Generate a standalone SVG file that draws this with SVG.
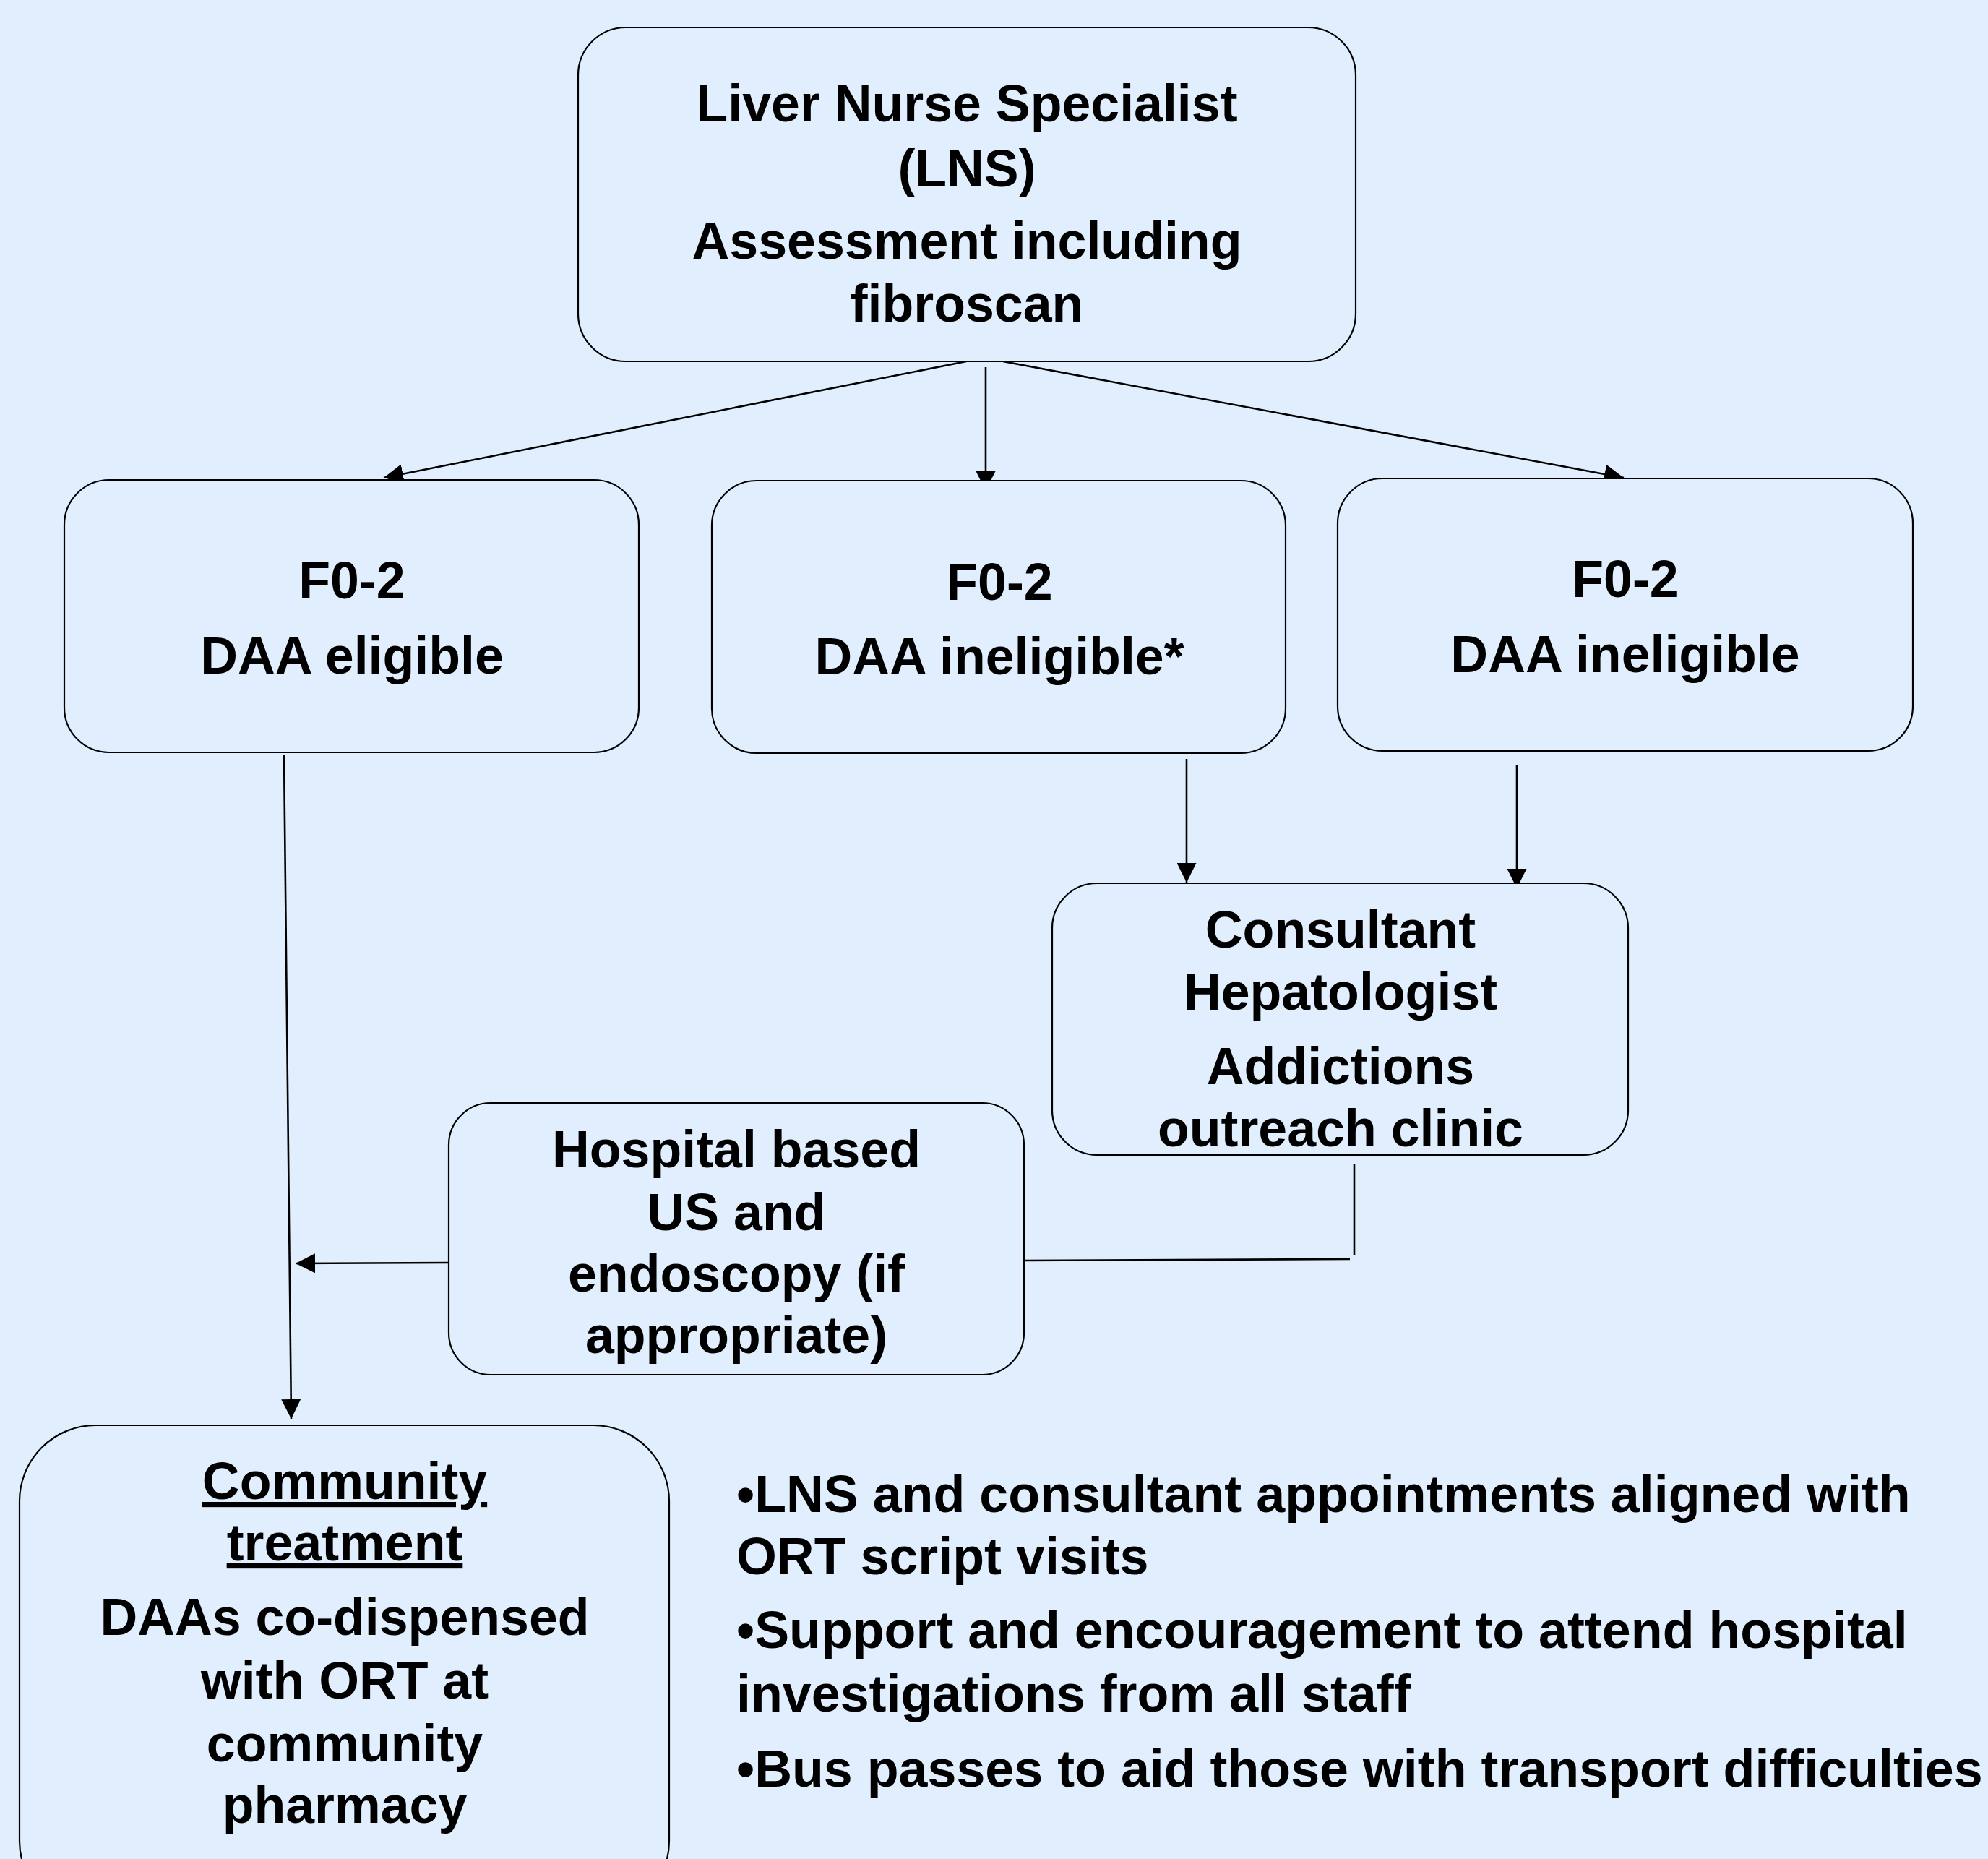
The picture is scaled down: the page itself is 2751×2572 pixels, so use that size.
<svg xmlns="http://www.w3.org/2000/svg" width="2751" height="2572" viewBox="0 0 2751 2572">
<defs>
<marker id="ah" viewBox="0 0 27 27" refX="27" refY="13.5" markerWidth="27" markerHeight="27" markerUnits="userSpaceOnUse" orient="auto">
<path d="M0,0 L27,13.5 L0,27 z" fill="#000"/>
</marker>
<style>
.box{fill:#E0EEFE;stroke:#000;stroke-width:2.2}
.t{font-family:"Liberation Sans",Arial,sans-serif;font-weight:bold;font-size:71.7px;fill:#000;text-anchor:middle}
.b{font-family:"Liberation Sans",Arial,sans-serif;font-weight:bold;font-size:71.8px;fill:#000}
.c{stroke:#000;stroke-width:2.6;fill:none}
.ca{stroke:#000;stroke-width:2.6;fill:none;marker-end:url(#ah)}
</style>
</defs>
<rect x="0" y="0" width="2751" height="2572" fill="#E0EEFE"/>

<g id="connectors">
<line class="ca" x1="1337" y1="500" x2="531" y2="661"/>
<line class="ca" x1="1364" y1="508" x2="1364" y2="679"/>
<line class="ca" x1="1388" y1="500" x2="2247" y2="661"/>
<line class="ca" x1="1642" y1="1050" x2="1642" y2="1221"/>
<line class="ca" x1="2099" y1="1058" x2="2099" y2="1229"/>
<line class="ca" x1="393" y1="1044" x2="403" y2="1963"/>
<line class="ca" x1="621" y1="1747" x2="409" y2="1748"/>
<line class="c" x1="1874" y1="1610" x2="1874" y2="1737"/>
<line class="c" x1="1868" y1="1742" x2="1417" y2="1744"/>
</g>

<g id="lns">
<rect class="box" x="800" y="38" width="1076" height="462" rx="66" ry="66"/>
<text class="t" x="1338" y="168">Liver Nurse Specialist</text>
<text class="t" x="1338" y="258">(LNS)</text>
<text class="t" x="1338" y="358">Assessment including</text>
<text class="t" x="1338" y="445">fibroscan</text>
</g>

<g id="eligible">
<rect class="box" x="89" y="664" width="795" height="377" rx="62" ry="62"/>
<text class="t" x="487" y="828">F0-2</text>
<text class="t" x="487" y="932">DAA eligible</text>
</g>

<g id="ineligible-star">
<rect class="box" x="985" y="665" width="794" height="377" rx="62" ry="62"/>
<text class="t" x="1383" y="830">F0-2</text>
<text class="t" x="1383" y="933">DAA ineligible*</text>
</g>

<g id="ineligible">
<rect class="box" x="1851" y="662" width="796" height="377" rx="62" ry="62"/>
<text class="t" x="2249" y="826">F0-2</text>
<text class="t" x="2249" y="930">DAA ineligible</text>
</g>

<g id="consultant">
<rect class="box" x="1456" y="1222" width="797" height="376" rx="62" ry="62"/>
<text class="t" x="1855" y="1311">Consultant</text>
<text class="t" x="1855" y="1397">Hepatologist</text>
<text class="t" x="1855" y="1500">Addictions</text>
<text class="t" x="1855" y="1586">outreach clinic</text>
</g>

<g id="hospital">
<rect class="box" x="621" y="1526" width="796" height="376" rx="58" ry="58"/>
<text class="t" x="1019" y="1615">Hospital based</text>
<text class="t" x="1019" y="1702">US and</text>
<text class="t" x="1019" y="1787">endoscopy (if</text>
<text class="t" x="1019" y="1872">appropriate)</text>
</g>

<g id="community">
<rect class="box" x="27" y="1972" width="899" height="680" rx="105" ry="105"/>
<text class="t" x="477" y="2074" text-decoration="underline">Community</text>
<text class="t" x="477" y="2159" text-decoration="underline">treatment</text>
<text class="t" x="477" y="2262">DAAs co-dispensed</text>
<text class="t" x="477" y="2350">with ORT at</text>
<text class="t" x="477" y="2437">community</text>
<text class="t" x="477" y="2522">pharmacy</text>
</g>

<g id="notes">
<text class="b" x="1019" y="2092">•LNS and consultant appointments aligned with</text>
<text class="b" x="1019" y="2178">ORT script visits</text>
<text class="b" x="1019" y="2280">•Support and encouragement to attend hospital</text>
<text class="b" x="1019" y="2368">investigations from all staff</text>
<text class="b" x="1019" y="2472">•Bus passes to aid those with transport difficulties</text>
</g>
</svg>
